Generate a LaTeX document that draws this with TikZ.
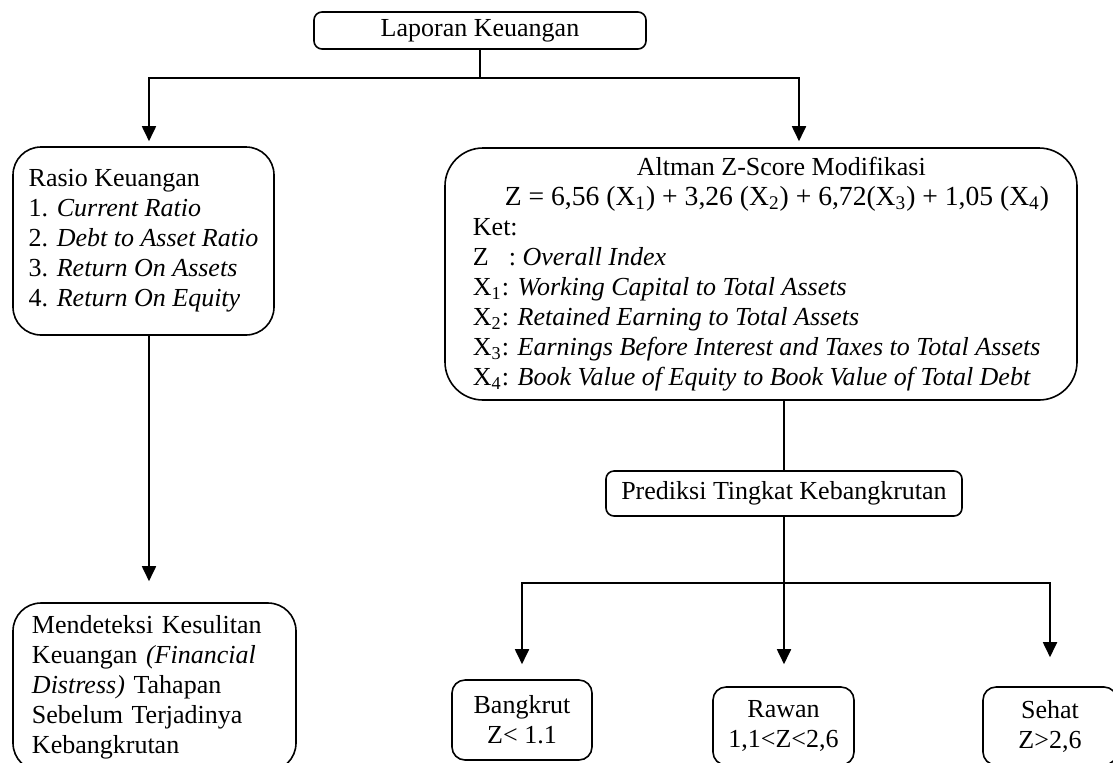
\documentclass[tikz,border=0pt]{standalone}
\usepackage{fontspec}
\setmainfont{Liberation Serif}
\usetikzlibrary{arrows.meta}
\tikzset{
    flat-box/.style = {draw, line width=0.8pt, rectangle, rounded corners=4pt, inner sep=0pt, align=center},
    round-box/.style = {draw, line width=0.8pt, rectangle, rounded corners=14pt, inner xsep=6pt, inner ysep=0pt, align=left},
    result-box/.style = {draw, line width=0.8pt, rectangle, rounded corners=6.5pt, inner sep=0pt, align=center},
    flow-line/.style = {line width=0.9pt},
    flow-arrow/.style = {flow-line, -{Triangle[width=7pt,length=7.5pt]}},
}

\begin{document}
\begin{tikzpicture}[x=0.5pt, y=-0.5pt, every node/.style={font=\fontsize{13}{15}\selectfont}]
\useasboundingbox (0,0) rectangle (1113,762);
\clip (0,0) rectangle (1113,762);

\node [flat-box, minimum width=166pt, minimum height=18.5pt] (lap) at (480,30.5) {Laporan Keuangan};

\node [round-box, minimum width=130.5pt, minimum height=94pt] (rasio) at (143.5,241) {Rasio Keuangan\\
    1. \textit{Current Ratio}\\
    2. \textit{Debt to Asset Ratio}\\
    3. \textit{Return On Assets}\\
    4. \textit{Return On Equity}};

\node [round-box, rounded corners=19pt, minimum width=316pt, minimum height=126pt] (altman) at (761,274) {\hspace*{82pt}Altman Z-Score Modifikasi\\
    {\fontsize{13.8}{15}\selectfont\hspace*{16pt}Z = 6,56 (X\textsubscript{1}) + 3,26 (X\textsubscript{2}) + 6,72(X\textsubscript{3}) + 1,05 (X\textsubscript{4})}\\
    Ket:\\
    Z\hspace{10pt}: \textit{Overall Index}\\
    X\textsubscript{1}: \textit{Working Capital to Total Assets}\\
    X\textsubscript{2}: \textit{Retained Earning to Total Assets}\\
    X\textsubscript{3}: \textit{Earnings Before Interest and Taxes to Total Assets}\\
    X\textsubscript{4}: \textit{Book Value of Equity to Book Value of Total Debt}};

\node [round-box, inner xsep=9.5pt, text width=122.5pt, minimum height=84pt] (mend) at (154.5,687) {Mendeteksi Kesulitan\\
    Keuangan \textit{(Financial}\\
    \textit{Distress)} Tahapan\\
    Sebelum Terjadinya\\
    Kebangkrutan};

\node [flat-box, minimum width=178pt, minimum height=22.5pt] (pred) at (784,493.5) {Prediksi Tingkat Kebangkrutan};

\node [result-box, minimum width=70pt, minimum height=40pt] (bangkrut) at (522,720) {Bangkrut\\Z< 1.1};
\node [result-box, minimum width=70.5pt, minimum height=39pt] (rawan) at (783.5,726) {Rawan\\1,1<Z<2,6};
\node [result-box, minimum width=67pt, minimum height=39pt] (sehat) at (1050,726) {Sehat\\Z>2,6};

\coordinate (top-fork) at (480,78);
\coordinate (low-fork) at (784,583);

\draw [flow-line] (lap) -- (top-fork);
\draw [flow-arrow, shorten >=2.5pt] (top-fork) -| ([xshift=2.75pt]rasio.north);
\draw [flow-arrow, shorten >=3pt] (top-fork) -| ([xshift=19pt]altman.north);
\draw [flow-arrow, shorten >=10.5pt] ([xshift=2.75pt]rasio.south) -- ([xshift=2.75pt]rasio.south |- mend.north);
\draw [flow-line] (altman.south -| pred.north) -- (pred.north);
\draw [flow-line] (pred) -- (low-fork);
\draw [flow-arrow, shorten >=7.5pt] (low-fork) -| (bangkrut.north);
\draw [flow-arrow, shorten >=11pt] (low-fork) -- (low-fork |- rawan.north);
\draw [flow-arrow, shorten >=14.5pt] (low-fork) -| (sehat.north);
\end{tikzpicture}
\end{document}
